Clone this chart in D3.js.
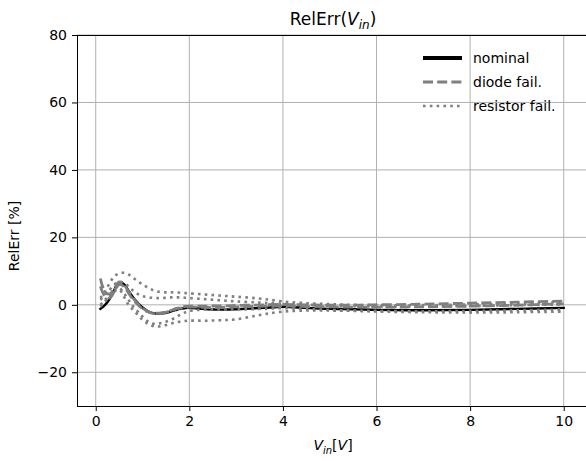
<!DOCTYPE html>
<html>
<head>
<meta charset="utf-8">
<script src="https://cdn.jsdelivr.net/npm/d3@7"></script>
<style>
    body { margin: 0; background: #fff; }
    #chart { width: 586px; height: 461px; }
    text { font-family: "DejaVu Sans", sans-serif; fill: #000; }
</style>
</head>
<body>
<div id="chart"></div>
<script>

// input voltage sample points [V]
let vin = [0.1, 0.2, 0.3, 0.4, 0.5, 0.6, 0.7, 0.8, 0.9, 1.0, 1.1, 1.2, 1.3, 1.4, 1.5, 1.6, 1.7, 1.8, 1.9, 2.0,
    2.2, 2.4, 2.6, 2.8, 3.0, 3.3, 3.6, 4.0, 4.5, 5.0, 5.5, 6.0, 7.0, 8.0, 9.0, 10.0];

// relative error [%]
let nominal = [-1.2, 0.0, 1.8, 4.5, 6.5, 6.2, 4.2, 2.2, 0.6, -0.8, -1.8, -2.4, -2.6, -2.6, -2.4, -2.0, -1.6, -1.2, -1.0, -0.9,
    -1.1, -1.3, -1.4, -1.4, -1.3, -1.1, -0.9, -0.6, -0.9, -1.2, -1.3, -1.5, -1.6, -1.5, -1.2, -0.9];

let diodeFail1 = [7.8, 3.8, 3.2, 5.0, 6.8, 6.0, 4.0, 2.0, 0.3, -1.0, -1.9, -2.4, -2.5, -2.4, -2.1, -1.7, -1.2, -0.8, -0.5, -0.4,
    -0.4, -0.4, -0.3, -0.3, -0.2, -0.1, 0.0, 0.1, 0.0, -0.1, -0.1, 0.0, 0.2, 0.5, 0.8, 1.1];
let diodeFail2 = [5.5, 2.5, 2.0, 4.0, 6.0, 5.5, 3.5, 1.5, 0.0, -1.2, -2.0, -2.5, -2.6, -2.5, -2.2, -1.8, -1.3, -1.0, -0.8, -0.7,
    -0.7, -0.8, -0.8, -0.7, -0.6, -0.5, -0.4, -0.3, -0.5, -0.6, -0.7, -0.7, -0.6, -0.4, -0.1, 0.3];

let resistorFail1 = [2.0, 4.0, 6.5, 8.5, 9.3, 9.5, 9.0, 8.0, 7.0, 6.0, 5.2, 4.5, 4.0, 3.8, 3.7, 3.7, 3.7, 3.6, 3.5, 3.4,
    3.2, 3.0, 2.8, 2.6, 2.4, 2.1, 1.7, 1.0, 0.5, 0.2, 0.0, -0.1, -0.1, 0.1, 0.4, 0.8];
let resistorFail2 = [1.5, 3.0, 4.5, 6.0, 6.8, 6.5, 5.5, 4.2, 3.2, 2.6, 2.3, 2.1, 2.0, 2.0, 2.1, 2.2, 2.2, 2.2, 2.1, 2.0,
    1.8, 1.6, 1.4, 1.2, 1.0, 0.8, 0.6, 0.3, 0.0, -0.3, -0.4, -0.5, -0.5, -0.3, -0.1, 0.1];
let resistorFail3 = [0.0, 1.5, 3.0, 4.5, 5.0, 3.5, 1.5, -0.5, -2.0, -3.5, -4.8, -5.5, -5.6, -5.4, -5.0, -4.5, -3.8, -3.0, -2.3, -1.8,
    -1.5, -1.4, -1.4, -1.4, -1.4, -1.3, -1.2, -1.0, -1.2, -1.5, -1.7, -1.8, -1.9, -1.8, -1.6, -1.4];
let resistorFail4 = [-0.5, 1.0, 2.5, 4.0, 4.5, 2.5, 0.0, -1.5, -3.0, -4.5, -5.5, -6.2, -6.5, -6.3, -6.0, -5.6, -5.2, -5.0, -4.8, -4.7,
    -4.7, -4.7, -4.6, -4.5, -4.3, -3.6, -2.8, -2.0, -1.7, -1.7, -1.8, -2.0, -2.2, -2.3, -2.2, -2.0];

let xTicks = [0, 2, 4, 6, 8, 10];
let yTicks = [-20, 0, 20, 40, 60, 80];

let legendLabels = ["nominal", "diode fail.", "resistor fail."];


class ErrVis {

    constructor(parentElement) {
        this.parentElement = parentElement;

        // line styles: solid / dashed / dotted
        this.styles = {
            nominal: {color: "#000", width: 2.4, dash: null, cap: "square"},
            diode: {color: "#7f7f7f", width: 2.8, dash: "10,4.2", cap: "butt"},
            resistor: {color: "#7f7f7f", width: 2.6, dash: "2.6,4.2", cap: "butt"}
        };

        this.initVis();
    }

    initVis() {
        let vis = this;

        vis.svg = d3.select("#" + vis.parentElement).append("svg")
            .attr("width", 586)
            .attr("height", 461);

        // axes box (right edge runs off the picture)
        vis.left = 77;
        vis.right = 589;
        vis.top = 35;
        vis.bottom = 406;

        vis.x = d3.scaleLinear().domain([-0.4, 10.54]).range([vis.left, vis.right]);
        vis.y = d3.scaleLinear().domain([-30, 80]).range([vis.bottom, vis.top]);

        vis.series = [
            {values: nominal, style: vis.styles.nominal},
            {values: diodeFail1, style: vis.styles.diode},
            {values: diodeFail2, style: vis.styles.diode},
            {values: resistorFail1, style: vis.styles.resistor},
            {values: resistorFail2, style: vis.styles.resistor},
            {values: resistorFail3, style: vis.styles.resistor},
            {values: resistorFail4, style: vis.styles.resistor}
        ];

        vis.updateVis();
    }

    updateVis() {
        let vis = this;

        // grid
        vis.svg.append("g")
            .selectAll("line.vgrid")
            .data(xTicks)
            .enter()
            .append("line")
            .attr("x1", d => vis.x(d)).attr("x2", d => vis.x(d))
            .attr("y1", vis.top).attr("y2", vis.bottom)
            .attr("stroke", "#b0b0b0").attr("stroke-width", 1);

        vis.svg.append("g")
            .selectAll("line.hgrid")
            .data(yTicks)
            .enter()
            .append("line")
            .attr("x1", vis.left).attr("x2", vis.right)
            .attr("y1", d => vis.y(d)).attr("y2", d => vis.y(d))
            .attr("stroke", "#b0b0b0").attr("stroke-width", 1);

        // curves
        let line = d3.line()
            .x((d, i) => vis.x(vin[i]))
            .y(d => vis.y(d))
            .curve(d3.curveCatmullRom);

        vis.svg.append("g")
            .selectAll("path")
            .data(vis.series)
            .enter()
            .append("path")
            .attr("d", d => line(d.values))
            .attr("fill", "none")
            .attr("stroke", d => d.style.color)
            .attr("stroke-width", d => d.style.width)
            .attr("stroke-dasharray", d => d.style.dash)
            .attr("stroke-linecap", d => d.style.cap)
            .attr("stroke-linejoin", "round");

        // axes
        let xAxis = d3.axisBottom(vis.x).tickValues(xTicks).tickSize(5).tickPadding(5).tickFormat(d3.format("d"));
        let yAxis = d3.axisLeft(vis.y).tickValues(yTicks).tickSize(5).tickPadding(5).tickFormat(d3.format("d"));

        let gx = vis.svg.append("g")
            .attr("transform", "translate(0," + vis.bottom + ")")
            .call(xAxis);
        let gy = vis.svg.append("g")
            .attr("transform", "translate(" + vis.left + ",0)")
            .call(yAxis);

        [gx, gy].forEach(g => {
            g.select(".domain").remove();
            g.selectAll("text").style("font-size", "14px").style("font-family", "DejaVu Sans");
            g.selectAll("line").attr("stroke", "#000").attr("stroke-width", 1);
        });

        // spines
        vis.svg.append("rect")
            .attr("x", vis.left + 0.5).attr("y", vis.top + 0.5)
            .attr("width", vis.right - vis.left + 4).attr("height", vis.bottom - vis.top)
            .attr("fill", "none").attr("stroke", "#000").attr("stroke-width", 1);

        // title
        let title = vis.svg.append("text")
            .attr("x", (vis.left + vis.right) / 2)
            .attr("y", 25)
            .attr("text-anchor", "middle")
            .style("font-size", "17px");
        title.append("tspan").text("RelErr(");
        title.append("tspan").text("V").style("font-style", "italic");
        title.append("tspan").text("in").attr("dy", 4).style("font-size", "12px").style("font-style", "italic");
        title.append("tspan").text(")").attr("dy", -4);

        // x label
        let xl = vis.svg.append("text")
            .attr("x", (vis.left + vis.right) / 2)
            .attr("y", 450)
            .attr("text-anchor", "middle")
            .style("font-size", "14px");
        xl.append("tspan").text("V").style("font-style", "italic");
        xl.append("tspan").text("in").attr("dy", 4).style("font-size", "10px").style("font-style", "italic");
        xl.append("tspan").text("[").attr("dy", -4);
        xl.append("tspan").text("V").style("font-style", "italic");
        xl.append("tspan").text("]");

        // y label
        vis.svg.append("text")
            .attr("transform", "translate(19,236) rotate(-90)")
            .attr("text-anchor", "middle")
            .style("font-size", "14px")
            .text("RelErr [%]");

        // legend
        let legendStyles = [vis.styles.nominal, vis.styles.diode, vis.styles.resistor];
        let lg = vis.svg.append("g")
            .selectAll("g")
            .data(legendLabels)
            .enter()
            .append("g")
            .attr("transform", (d, i) => "translate(423," + (58 + i * 24) + ")");

        lg.append("line")
            .attr("x1", 0).attr("x2", 39)
            .attr("stroke", (d, i) => legendStyles[i].color)
            .attr("stroke-width", (d, i) => i === 0 ? 4 : legendStyles[i].width)
            .attr("stroke-dasharray", (d, i) => legendStyles[i].dash);

        lg.append("text")
            .attr("x", 50)
            .attr("dy", "0.35em")
            .style("font-size", "14px")
            .text(d => d);
    }
}

new ErrVis("chart");

</script>
</body>
</html>
